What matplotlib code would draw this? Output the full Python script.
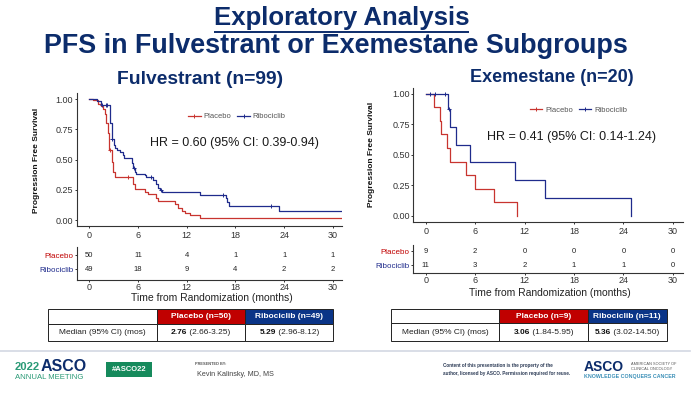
import matplotlib.pyplot as plt
from matplotlib import font_manager
from matplotlib.lines import Line2D
from matplotlib.patches import Rectangle

W, H = 691, 395
DPI = 100

names = {f.name for f in font_manager.fontManager.ttflist}
SANS = 'Liberation Sans'
NARROW = 'Liberation Sans Narrow' if 'Liberation Sans Narrow' in names else SANS
plt.rcParams['font.family'] = [SANS, 'DejaVu Sans']

NAVY = '#0c2c6b'
RED_LINE = '#c8342f'
BLUE_LINE = '#1f2b8c'
RED_CELL = '#c00000'
BLUE_CELL = '#0a3487'
TEAL = '#2a9a76'
GREEN = '#168a5c'
AXCOL = '#333333'

# ---- values ----
months = [0, 6, 12, 18, 24, 30]
surv_ticks = [0.0, 0.25, 0.50, 0.75, 1.0]

# Fulvestrant (n=99)
fulv_pbo_t = [0, 0.5, 1.1, 1.4, 1.7, 1.9, 2.1, 2.3, 2.45, 2.75, 2.95, 3.2, 5.4, 5.6,
              6.8, 7.2, 8.2, 8.5, 10.5, 10.9, 11.4, 11.8, 12.4, 13.6, 31.0]
fulv_pbo_s = [1.0, 0.99, 0.96, 0.94, 0.92, 0.88, 0.80, 0.72, 0.58, 0.48, 0.40, 0.355, 0.30, 0.255,
              0.235, 0.215, 0.18, 0.155, 0.13, 0.10, 0.08, 0.06, 0.04, 0.02, 0.02]
fulv_pbo_cens_t = [2.6, 4.8]
fulv_pbo_cens_s = [0.58, 0.355]

fulv_rib_t = [0, 0.9, 1.4, 2.5, 2.6, 2.75, 3.0, 3.2, 3.4, 3.8, 4.1, 4.3, 5.2, 5.4, 5.6, 5.8,
              6.8, 7.0, 7.9, 8.2, 8.4, 8.7, 9.0, 13.6, 16.8, 17.0, 17.2, 23.3, 31.0]
fulv_rib_s = [1.0, 0.98, 0.95, 0.90, 0.80, 0.67, 0.62, 0.60, 0.58, 0.56, 0.54, 0.515, 0.47, 0.43, 0.40, 0.385,
              0.37, 0.355, 0.335, 0.30, 0.27, 0.25, 0.235, 0.21, 0.18, 0.15, 0.12, 0.08, 0.08]
fulv_rib_cens_t = [1.6, 2.0, 2.2, 2.85, 5.5, 7.6, 8.8, 16.5, 22.4]
fulv_rib_cens_s = [0.95, 0.95, 0.95, 0.67, 0.43, 0.355, 0.25, 0.21, 0.12]

# Exemestane (n=20)
exe_pbo_t = [0, 1.0, 1.75, 1.9, 2.6, 3.0, 4.9, 6.0, 8.3, 11.1]
exe_pbo_s = [1.0, 0.889, 0.778, 0.667, 0.556, 0.444, 0.333, 0.222, 0.111, 0.0]
exe_pbo_cens_t = []
exe_pbo_cens_s = []

exe_rib_t = [0, 2.7, 3.0, 3.7, 5.4, 10.85, 14.5, 24.9]
exe_rib_s = [1.0, 0.875, 0.729, 0.583, 0.437, 0.292, 0.146, 0.0]
exe_rib_cens_t = [0.5, 1.1, 2.35, 2.85]
exe_rib_cens_s = [1.0, 1.0, 1.0, 0.875]

# numbers at risk
fulv_risk_pbo = [50, 11, 4, 1, 1, 1]
fulv_risk_rib = [49, 18, 9, 4, 2, 2]
exe_risk_pbo = [9, 2, 0, 0, 0, 0]
exe_risk_rib = [11, 3, 2, 1, 1, 0]

fulv_hr = 'HR = 0.60 (95% CI: 0.39-0.94)'
exe_hr = 'HR = 0.41 (95% CI: 0.14-1.24)'
fulv_n = [50, 49]
exe_n = [9, 11]
fulv_median = [('2.76', '(2.66-3.25)'), ('5.29', '(2.96-8.12)')]
exe_median = [('3.06', '(1.84-5.95)'), ('5.36', '(3.02-14.50)')]

fig = plt.figure(figsize=(W / DPI, H / DPI), dpi=DPI)
bg = fig.add_axes([0, 0, 1, 1])
bg.set_xlim(0, W)
bg.set_ylim(H, 0)
bg.axis('off')
bg.set_zorder(10)  # overlay: texts must sit above the plot panels


def px_axes(left, top, right, bottom):
    return fig.add_axes([left / W, 1 - bottom / H, (right - left) / W, (bottom - top) / H])


def fit_width(t, target):
    fig.canvas.draw()
    w = t.get_window_extent().width
    t.set_fontsize(t.get_fontsize() * target / w)


def style_axis(ax):
    for s in ['top', 'right']:
        ax.spines[s].set_visible(False)
    for s in ['left', 'bottom']:
        ax.spines[s].set_linewidth(0.8)
        ax.spines[s].set_color(AXCOL)
    ax.tick_params(length=1.7, width=0.7, colors=AXCOL, labelsize=6.5)
    ax.tick_params(axis='y', pad=0.8)
    for lab in ax.get_xticklabels() + ax.get_yticklabels():
        lab.set_family(NARROW)


def km_panel(box, xlim, ylim, arms, leg_xy):
    ax = px_axes(*box)
    for t, s, ct, cs, col in arms:
        ax.step(t, s, where='post', color=col, lw=0.9)
        ax.plot(ct, cs, ls='none', marker='+', color=col, ms=3.5, mew=0.7)
    ax.set_xlim(xlim)
    ax.set_ylim(ylim)
    ax.set_xticks(months)
    ax.set_yticks(surv_ticks)
    ax.set_yticklabels([f'{v:.2f}' for v in surv_ticks])
    style_axis(ax)
    ax.tick_params(axis='x', pad=2)
    handles = [Line2D([], [], color=RED_LINE, lw=0.9, marker='+', ms=3.5, mew=0.7),
               Line2D([], [], color=BLUE_LINE, lw=0.9, marker='+', ms=3.5, mew=0.7)]
    ax.legend(handles, ['Placebo', 'Ribociclib'], loc='center', bbox_to_anchor=leg_xy,
              ncol=2, frameon=False, prop={'family': NARROW, 'size': 5.5}, labelcolor='#555555',
              handlelength=1.6, handletextpad=0.4, columnspacing=0.8, borderpad=0)
    return ax


def risk_panel(box, xlim, ylim, pbo, rib):
    ax = px_axes(*box)
    for m, a, b in zip(months, pbo, rib):
        ax.text(m, 1, str(a), ha='center', va='center', fontsize=5.5, family=NARROW, color='#222222')
        ax.text(m, 0, str(b), ha='center', va='center', fontsize=5.5, family=NARROW, color='#222222')
    ax.set_xlim(xlim)
    ax.set_ylim(ylim)
    ax.set_xticks(months)
    ax.set_yticks([1, 0])
    ax.set_yticklabels(['Placebo', 'Ribociclib'])
    style_axis(ax)
    ax.tick_params(axis='x', pad=0.6)
    ax.tick_params(axis='y', labelsize=5.8)
    labs = ax.get_yticklabels()
    labs[0].set_color(RED_CELL)
    labs[1].set_color(BLUE_LINE)
    return ax


def median_table(xs, ys, n, med):
    x0, x1, x2, x3 = xs
    y0, y1, y2 = ys
    cells = [(x0, x1, y0, y1, 'white'), (x1, x2, y0, y1, RED_CELL), (x2, x3, y0, y1, BLUE_CELL),
             (x0, x1, y1, y2, 'white'), (x1, x2, y1, y2, 'white'), (x2, x3, y1, y2, 'white')]
    for a, b, c, d, col in cells:
        bg.add_patch(Rectangle((a, c), b - a, d - c, facecolor=col, edgecolor='#222222', lw=0.7))
    yh = (y0 + y1) / 2
    yd = (y1 + y2) / 2
    bg.text((x1 + x2) / 2, yh, f'Placebo (n={n[0]})', ha='center', va='center',
            color='white', fontsize=6, weight='bold')
    bg.text((x2 + x3) / 2, yh, f'Ribociclib (n={n[1]})', ha='center', va='center',
            color='white', fontsize=6, weight='bold')
    bg.text((x0 + x1) / 2, yd, 'Median (95% CI) (mos)', ha='center', va='center',
            color='#222222', fontsize=6)
    for (a, b), (val, ci) in zip([(x1, x2), (x2, x3)], med):
        bt = bg.text(0, yd, val, ha='left', va='center', color='#111111', fontsize=6, weight='bold')
        rt = bg.text(0, yd, ' ' + ci, ha='left', va='center', color='#222222', fontsize=6)
        fig.canvas.draw()
        wb = bt.get_window_extent().width
        wr = rt.get_window_extent().width
        start = (a + b) / 2 - (wb + wr) / 2
        bt.set_x(start)
        rt.set_x(start + wb)


# ---- titles ----
t1 = bg.text(341.5, 18, 'Exploratory Analysis', ha='center', va='center',
             color=NAVY, fontsize=20, weight='bold', family=NARROW)
t2 = bg.text(335.5, 46, 'PFS in Fulvestrant or Exemestane Subgroups', ha='center', va='center',
             color=NAVY, fontsize=20, weight='bold', family=NARROW)
fit_width(t1, 255)
fit_width(t2, 585)
fig.canvas.draw()
bb = t1.get_window_extent()
bg.plot([bb.x0, bb.x1], [32, 32], color=NAVY, lw=1.4, solid_capstyle='butt')

s1 = bg.text(200, 80, 'Fulvestrant (n=99)', ha='center', va='center', color=NAVY, fontsize=13, weight='bold')
s2 = bg.text(551.5, 78, 'Exemestane (n=20)', ha='center', va='center', color=NAVY, fontsize=13, weight='bold')
fit_width(s1, 166)
fit_width(s2, 163)

# ---- KM panels ----
km_panel((76.7, 93, 341.7, 225.7), (-1.55, 31.08), (-0.045, 1.05),
         [(fulv_pbo_t, fulv_pbo_s, fulv_pbo_cens_t, fulv_pbo_cens_s, RED_LINE),
          (fulv_rib_t, fulv_rib_s, fulv_rib_cens_t, fulv_rib_cens_s, BLUE_LINE)],
         (0.605, 0.821))
km_panel((413.3, 88.3, 682.7, 221.7), (-1.51, 31.2), (-0.049, 1.044),
         [(exe_pbo_t, exe_pbo_s, exe_pbo_cens_t, exe_pbo_cens_s, RED_LINE),
          (exe_rib_t, exe_rib_s, exe_rib_cens_t, exe_rib_cens_s, BLUE_LINE)],
         (0.613, 0.837))

bg.text(150, 142.7, fulv_hr, ha='left', va='center', fontsize=9, color='#1a1a1a')
bg.text(486.7, 136.7, exe_hr, ha='left', va='center', fontsize=9, color='#1a1a1a')

bg.text(37, 160, 'Progression Free Survival', rotation=90, ha='center', va='center',
        fontsize=6, weight='bold', color='#111111')
bg.text(372, 154, 'Progression Free Survival', rotation=90, ha='center', va='center',
        fontsize=6, weight='bold', color='#111111')

# ---- risk tables ----
risk_panel((76.7, 246.7, 341.7, 280), (-1.55, 31.08), (-0.764, 1.614), fulv_risk_pbo, fulv_risk_rib)
risk_panel((413.3, 245, 682.7, 273.3), (-1.51, 31.2), (-0.59, 1.43), exe_risk_pbo, exe_risk_rib)
bg.text(212, 298, 'Time from Randomization (months)', ha='center', va='center',
        fontsize=7.5, family=NARROW, color='#222222')
bg.text(549.5, 292.7, 'Time from Randomization (months)', ha='center', va='center',
        fontsize=7.5, family=NARROW, color='#222222')

# ---- median tables ----
median_table((48.3, 156.7, 245, 333.3), (309.3, 324.3, 341), fulv_n, fulv_median)
median_table((391, 499, 587.7, 666.7), (309.3, 323.3, 341), exe_n, exe_median)

# ---- footer ----
bg.plot([0, 690], [350.7, 350.7], color='#d3d8e3', lw=1.2)
bg.text(15, 367.5, '2022', ha='left', va='center', fontsize=8.1, weight='bold', color=TEAL)
bg.text(40.5, 366.5, 'ASCO', ha='left', va='center', fontsize=11.5, weight='bold', color=NAVY)
bg.text(15, 377.5, 'ANNUAL MEETING', ha='left', va='center', fontsize=5.6, color=TEAL)
bg.add_patch(Rectangle((106, 361.7), 45.7, 15.6, facecolor=GREEN, edgecolor='none'))
bg.text(128.8, 369.5, '#ASCO22', ha='center', va='center', fontsize=5.5, weight='bold', color='white')
bg.text(195, 364.3, 'PRESENTED BY:', ha='left', va='center', fontsize=2.8, weight='bold', color='#555555')
bg.text(196.7, 374, 'Kevin Kalinsky, MD, MS', ha='left', va='center', fontsize=5.2, color='#444444')
bg.text(443, 365.7, 'Content of this presentation is the property of the', ha='left', va='center',
        fontsize=3.3, weight='bold', color='#2b3a55')
bg.text(443, 373.3, 'author, licensed by ASCO. Permission required for reuse.', ha='left', va='center',
        fontsize=3.3, weight='bold', color='#2b3a55')
bg.text(584, 366.7, 'ASCO', ha='left', va='center', fontsize=10, weight='bold', color=NAVY)
bg.text(631, 364.3, 'AMERICAN SOCIETY OF', ha='left', va='center', fontsize=2.8, color='#555555')
bg.text(631, 369, 'CLINICAL ONCOLOGY', ha='left', va='center', fontsize=2.8, color='#555555')
bg.text(584, 376.7, 'KNOWLEDGE CONQUERS CANCER', ha='left', va='center', fontsize=3.8,
        weight='bold', color='#3a8fb7')

fig.savefig('out.png', dpi=DPI)
